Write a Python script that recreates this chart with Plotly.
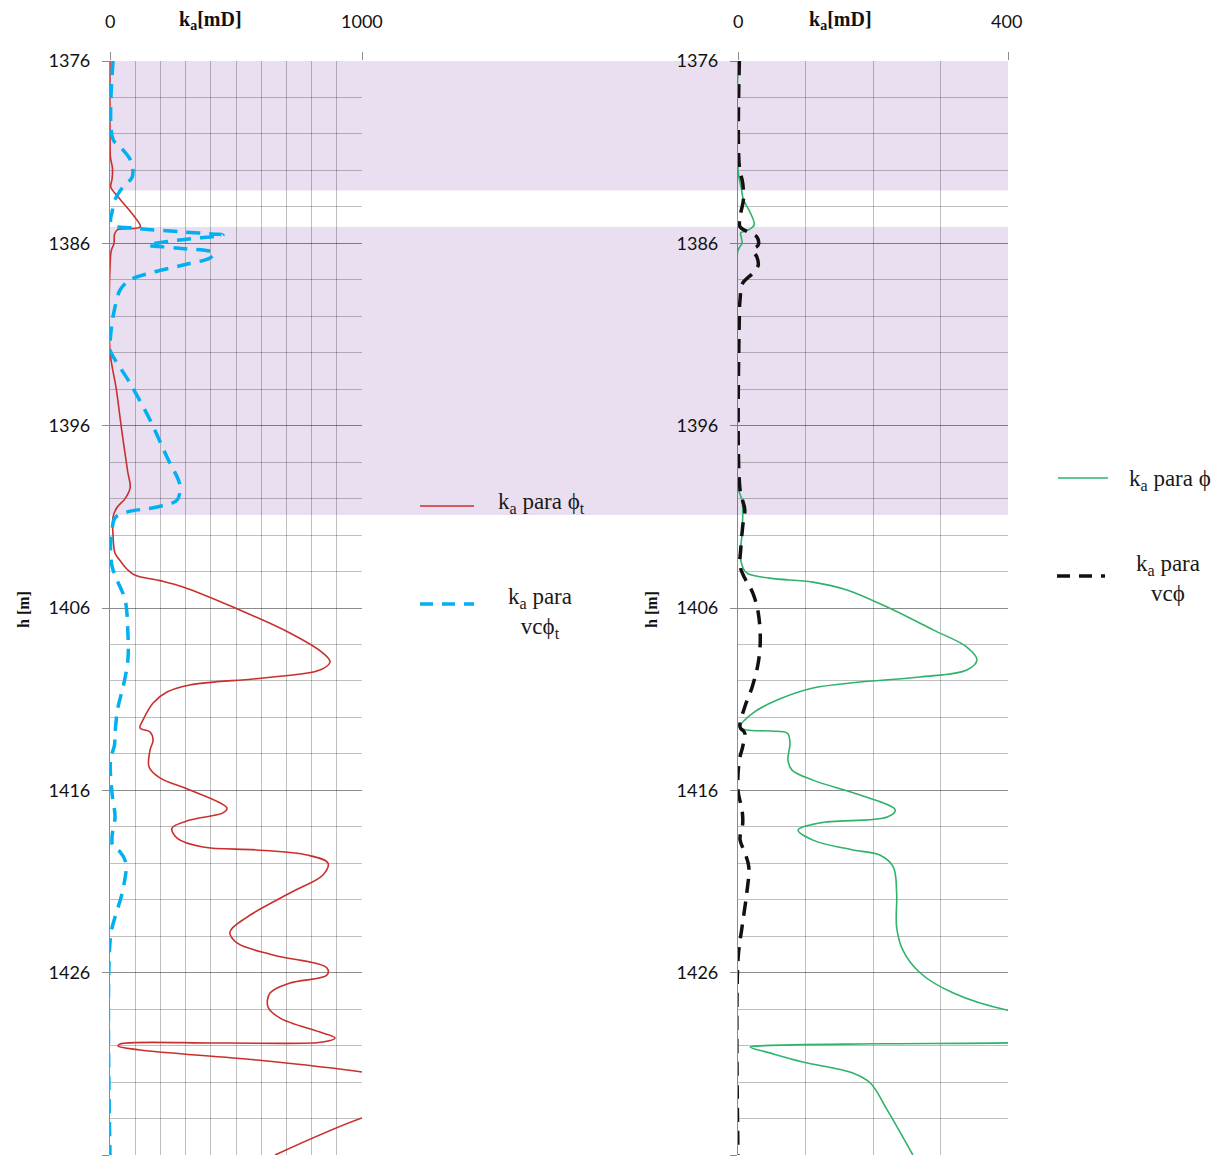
import plotly.graph_objects as go

# ---------------- data ----------------
depth_phi_t = [1376.0, 1380.0, 1381.3, 1381.9, 1382.5, 1382.9, 1383.5, 1384.5, 1385.1, 1385.25,
               1385.5, 1386.0, 1386.4, 1387.0, 1391.9, 1394.0, 1396.2, 1398.5, 1399.4, 1400.0,
               1400.5, 1401.0, 1402.0, 1403.0, 1403.4, 1403.9, 1404.2, 1404.5, 1404.85, 1405.95,
               1407.37, 1408.47, 1408.96, 1409.4, 1409.84, 1410.22, 1410.61, 1411.21, 1412.14, 1412.58,
               1412.8, 1413.24, 1413.79, 1414.72, 1415.32, 1415.98, 1416.97, 1417.24, 1417.63, 1418.07,
               1418.62, 1419.11, 1419.27, 1419.55, 1419.99, 1420.64, 1421.63, 1422.95, 1423.77, 1424.37,
               1425.03, 1425.74, 1426.13, 1426.57, 1427.12, 1427.88, 1428.49, 1429.26, 1429.58, 1429.80,
               1429.86, 1429.91, 1430.02, 1430.24, 1430.79, 1431.45, 1432.2, 1433.0, 1433.97, 1436.0]
ka_phi_t = [0, 0, 2, 10, 8, 3, 35, 95, 120, 30,
            18, 16, 5, 1, 0, 25, 46, 70, 80, 60,
            27, 12, 12, 20, 40, 70, 100, 198, 290, 488,
            714, 845, 873, 833, 607, 317, 226, 171, 131, 119,
            159, 171, 159, 155, 198, 317, 464, 448, 317, 246,
            266, 369, 583, 782, 865, 845, 714, 544, 476, 504,
            647, 861, 861, 714, 635, 627, 675, 833, 893, 845,
            448, 40, 32, 119, 583, 1000, 1300, 1250, 1000, 655]

depth_vcphi_t = [1376.0, 1380.3, 1380.7, 1381.4, 1382.0, 1382.4, 1382.9, 1383.6, 1384.3, 1384.7,
                 1385.0, 1385.16, 1385.38, 1385.55, 1385.7, 1385.9, 1386.09, 1386.26, 1386.53, 1386.8,
                 1387.19, 1387.63, 1388.01, 1388.56, 1389.49, 1390.37, 1391.5, 1391.85, 1393.66, 1395.69,
                 1397.72, 1399.0, 1399.36, 1400.08, 1400.46, 1400.74, 1401.06, 1401.72, 1402.65, 1403.7,
                 1404.47, 1405.56, 1407.37, 1408.85, 1410.33, 1411.43, 1412.86, 1413.5, 1414.34, 1416.15,
                 1417.46, 1418.56, 1419.11, 1419.38, 1420.0, 1421.63, 1422.95, 1424.04, 1436.0]
ka_vcphi_t = [12, 12, 40, 80, 91, 87, 52, 20, 8, 2,
              8, 91, 290, 448, 357, 228, 151, 266, 415, 397,
              290, 159, 79, 40, 20, 8, 0, 0, 79, 159,
              226, 272, 278, 266, 186, 67, 20, 8, 2, 8,
              28, 60, 71, 71, 52, 32, 20, 18, 2, 8,
              20, 8, 12, 40, 63, 48, 20, 2, 0]

depth_phi = [1376.0, 1382.0, 1383.0, 1383.6, 1384.3, 1385.0, 1385.27, 1385.43, 1385.7, 1386.0,
             1386.4, 1399.5, 1400.08, 1400.79, 1401.89, 1403.37, 1404.08, 1404.36, 1404.58, 1405.01,
             1405.95, 1407.2, 1408.14, 1408.85, 1409.4, 1409.78, 1410.06, 1410.39, 1411.05, 1411.76,
             1412.53, 1412.69, 1412.75, 1412.86, 1413.4, 1414.34, 1414.89, 1415.44, 1416.26, 1417.08,
             1417.46, 1417.79, 1418.18, 1418.73, 1419.27, 1419.55, 1420.2, 1421.63, 1423.5, 1424.75,
             1426.02, 1427.12, 1428.05, 1428.8, 1429.5, 1429.84, 1429.9, 1430.0, 1430.08, 1430.4,
             1430.9, 1431.5, 1432.05, 1433.53, 1436.0]
ka_phi = [0, 0, 5, 8, 18, 24, 15, 4, 5, 6,
          0, 1, 6, 7, 6, 4, 13, 47, 111, 161,
          221, 289, 339, 354, 339, 270, 181, 111, 58, 22,
          3, 13, 47, 73, 77, 74, 80, 111, 181, 233,
          221, 121, 89, 111, 170, 210, 230, 235, 235, 244,
          270, 319, 398, 560, 700, 420, 200, 40, 18, 47,
          96, 170, 196, 221, 259]

depth_vcphi = [1376.0, 1381.8, 1382.7, 1383.6, 1384.55, 1385.1, 1385.38, 1385.65, 1386.09, 1386.37,
               1386.75, 1387.19, 1387.63, 1388.18, 1389.1, 1390.0, 1399.5, 1400.6, 1401.5, 1402.8,
               1403.7, 1404.36, 1405.18, 1406.27, 1407.75, 1409.0, 1410.33, 1411.43, 1412.53, 1412.86,
               1413.6, 1414.34, 1416.0, 1417.08, 1417.8, 1418.7, 1419.4, 1420.2, 1421.63, 1423.5,
               1425.3, 1436.0]
ka_vcphi = [2, 2, 7, 8, 3, 3, 15, 28, 30, 22,
            28, 30, 22, 7, 3, 2, 3, 10, 7, 4,
            3, 10, 22, 30, 33, 30, 21, 10, 3, 10,
            7, 2, 0, 6, 7, 3, 10, 16, 13, 6,
            0, 0]

# shaded depth intervals
shade_top = [1376.0, 1385.1]
shade_bottom = [1383.1, 1400.9]

depth_range = [1376, 1436]
left_range = [0, 1000]
right_range = [0, 400]

# ---------------- styling ----------------
# page body has an 8px margin; figure is sized so that the page is exactly 1225x1164
OFF = 8
W, H = 1225 - 2 * OFF, 1164 - 2 * OFF
def px(x):
    return (x - OFF) / W
def py(y):
    return 1 - (y - OFF) / H

RED = "#C9302C"
BLUE = "#00B0F0"
GREEN = "#2EB36A"
BLACK = "#111111"
SHADE = "#E9DFF0"
GRID_MINOR = "rgba(0,0,0,0.25)"
GRID_MAJOR = "rgba(0,0,0,0.45)"
NUM_FONT = dict(family="Lato", size=18, color="#111111")
SERIF = "Liberation Serif"
SMOOTH = 1.0

fig = go.Figure()
fig.add_trace(go.Scatter(x=ka_phi_t, y=depth_phi_t, xaxis="x", yaxis="y", mode="lines",
                         name="ka para ϕt",
                         line=dict(color=RED, width=1.6, shape="spline", smoothing=SMOOTH)))
fig.add_trace(go.Scatter(x=ka_vcphi_t, y=depth_vcphi_t, xaxis="x", yaxis="y", mode="lines",
                         name="ka para vcϕt",
                         line=dict(color=BLUE, width=3.5, dash="14px,9px", shape="spline", smoothing=SMOOTH)))
fig.add_trace(go.Scatter(x=ka_phi, y=depth_phi, xaxis="x2", yaxis="y2", mode="lines",
                         name="ka para ϕ",
                         line=dict(color=GREEN, width=1.6, shape="spline", smoothing=SMOOTH)))
fig.add_trace(go.Scatter(x=ka_vcphi, y=depth_vcphi, xaxis="x2", yaxis="y2", mode="lines",
                         name="ka para vcϕ",
                         line=dict(color=BLACK, width=3.5, dash="14px,9px", shape="spline", smoothing=SMOOTH)))

ydom = [py(1155), py(61)]

def xaxis_cfg(dom, rng, anchor):
    return dict(domain=dom, range=rng, side="top", anchor=anchor,
                tickvals=rng, ticks="outside", ticklen=8, tickcolor=GRID_MAJOR, tickwidth=1.2,
                showticklabels=False, showgrid=True, gridcolor=GRID_MINOR, gridwidth=1.2,
                minor=dict(dtick=100, tick0=0, showgrid=True, gridcolor=GRID_MINOR, gridwidth=1.2, ticks=""),
                zeroline=False, showline=False, fixedrange=True)

def yaxis_cfg(anchor):
    return dict(domain=ydom, range=[depth_range[1], depth_range[0]], anchor=anchor,
                tick0=1376, dtick=10, ticks="outside", ticklen=7, tickcolor=GRID_MAJOR, tickwidth=1.2,
                showgrid=True, gridcolor=GRID_MAJOR, gridwidth=1.4,
                minor=dict(dtick=2, tick0=1376, showgrid=True, gridcolor=GRID_MINOR, gridwidth=1.2, ticks=""),
                showline=True, linecolor=GRID_MAJOR, linewidth=1.2,
                zeroline=False, tickfont=NUM_FONT, ticklabelstandoff=8, automargin=False)

fig.update_layout(
    width=W, height=H,
    margin=dict(l=0, r=0, t=0, b=0, autoexpand=False),
    paper_bgcolor="white", plot_bgcolor="rgba(0,0,0,0)",
    showlegend=False,
    xaxis=xaxis_cfg([px(110), px(362)], left_range, "y"),
    yaxis=yaxis_cfg("x"),
    xaxis2=xaxis_cfg([px(738), px(1008)], right_range, "y2"),
    yaxis2=yaxis_cfg("x2"),
)

# shaded intervals across both tracks
for t, b in zip(shade_top, shade_bottom):
    fig.add_shape(type="rect", xref="paper", yref="y", x0=px(110), x1=px(1008), y0=t, y1=b,
                  fillcolor=SHADE, line=dict(width=0), layer="below")

ann = []
# top axis labels
for x, txt in [(110, "0"), (362, "1000"), (738, "0"), (1006, "400")]:
    ann.append(dict(x=px(x), y=py(21), xref="paper", yref="paper", text=txt, showarrow=False,
                    font=NUM_FONT, xanchor="center", yanchor="middle"))
for x in [210, 841]:
    ann.append(dict(x=px(x), y=py(20), xref="paper", yref="paper", text="<b>k<sub>a</sub>[mD]</b>",
                    showarrow=False, font=dict(family=SERIF, size=20, color="#111111"),
                    xanchor="center", yanchor="middle"))
# y-axis titles
for x in [23, 651]:
    ann.append(dict(x=px(x), y=py(610), xref="paper", yref="paper", text="<b>h [m]</b>",
                    textangle=-90, showarrow=False, font=dict(family=SERIF, size=16, color="#111111"),
                    xanchor="center", yanchor="middle"))

LEG_FONT = dict(family=SERIF, size=23, color="#1a1a1a")
# legend entries (sample lines + text)
legend_items = [
    (420, 474, 506, RED, 1.6, None, 496, 503, "left", "k<sub>a</sub> para ϕ<sub>t</sub>"),
    (420, 474, 604, BLUE, 3.5, "13px,9px", 540, 613, "center", "k<sub>a</sub> para<br>vcϕ<sub>t</sub>"),
    (1058, 1108, 478, GREEN, 1.6, None, 1127, 480, "left", "k<sub>a</sub> para ϕ"),
    (1057, 1105, 576, BLACK, 3.5, "13px,9px", 1168, 578, "center", "k<sub>a</sub> para<br>vcϕ"),
]
for x0, x1, yl, col, w, dash, tx, ty, anc, txt in legend_items:
    line = dict(color=col, width=w)
    if dash:
        line["dash"] = dash
    fig.add_shape(type="line", xref="paper", yref="paper", x0=px(x0), x1=px(x1), y0=py(yl), y1=py(yl),
                  line=line)
    ann.append(dict(x=px(tx), y=py(ty), xref="paper", yref="paper", text=txt, showarrow=False,
                    font=LEG_FONT, xanchor=anc, yanchor="middle", align="center"))

fig.update_layout(annotations=ann)
fig.write_html("out.html")
